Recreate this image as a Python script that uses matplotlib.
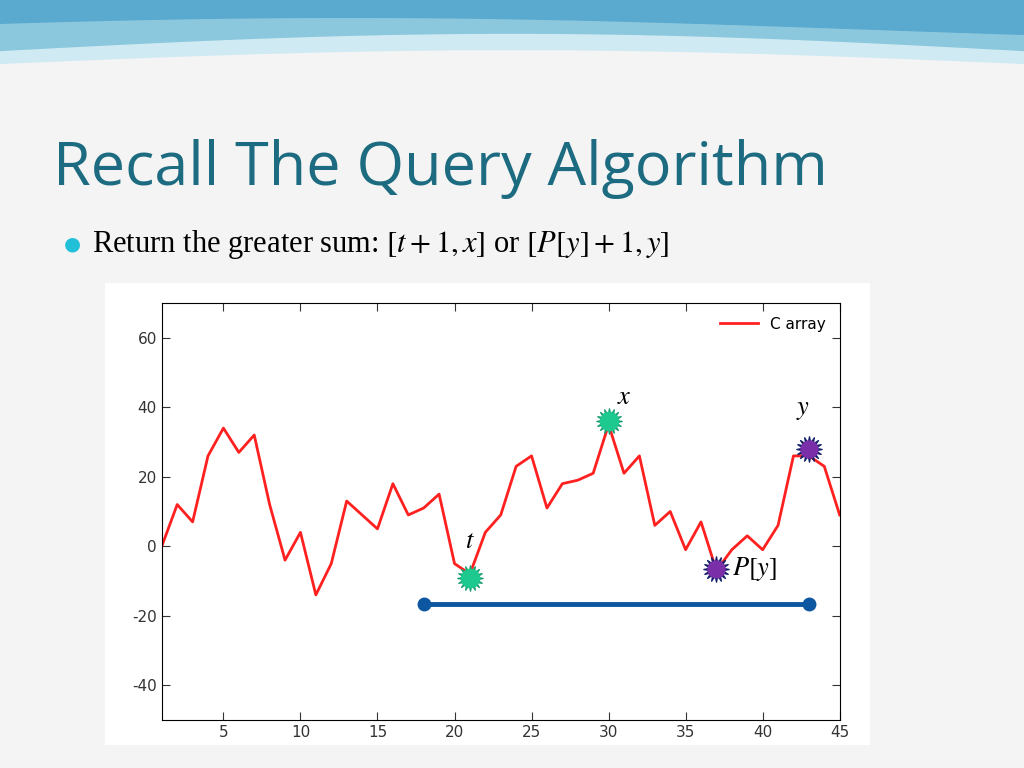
import matplotlib.pyplot as plt
import numpy as np

plt.rcParams['mathtext.fontset'] = 'stix'
plt.rcParams['axes.unicode_minus'] = False

xs = list(range(1, 46))
c_array = [0, 12, 7, 26, 34, 27, 32, 12, -4, 4, -14, -5, 13, 9, 5, 18, 9, 11, 15, -5,
           -8, 4, 9, 23, 26, 11, 18, 19, 21, 35, 21, 26, 6, 10, -1, 7, -7, -1, 3, -1,
           6, 26, 26, 23, 9]
green_pts_x = [21, 30]
green_pts_y = [-9, 36]
purple_pts_x = [37, 43]
purple_pts_y = [-6.5, 28]
seg_x = [18, 43]
seg_y = [-16.5, -16.5]
xticks = [5, 10, 15, 20, 25, 30, 35, 40, 45]
yticks = [-40, -20, 0, 20, 40, 60]

fig = plt.figure(figsize=(10.24, 7.68), dpi=100)
fig.patch.set_facecolor('#f4f4f4')

bg = fig.add_axes([0, 0.85, 1, 0.15])
bg.set_xlim(0, 1); bg.set_ylim(0, 1); bg.axis('off')
t = np.linspace(0, 1, 200)
bg.fill_between(t, 1, 0.55 + 0.15*np.sin(np.pi*t), color='#8cc8dd')
bg.fill_between(t, 1, 0.75 + 0.1*np.sin(np.pi*t+0.5), color='#5aa9cf')
bg.fill_between(t, 0.55 + 0.15*np.sin(np.pi*t), 0.45 + 0.12*np.sin(np.pi*t), color='#cfeaf3')

fig.text(0.052, 0.78, 'Recall The Query Algorithm', fontsize=44, color='#1d6b80',
         family='Open Sans', va='center')
fig.text(0.062, 0.682, '\u25cf', fontsize=14, color='#22c0d8', va='center')
fig.text(0.09, 0.682, r'Return the greater sum: $[t+1,x]$ or $[P[y]+1,y]$',
         fontsize=22, family='Liberation Serif', va='center')

box = fig.add_axes([0.103, 0.03, 0.747, 0.602])
box.set_facecolor('white'); box.set_xticks([]); box.set_yticks([])
for s in box.spines.values():
    s.set_visible(False)

ax = fig.add_axes([0.158, 0.0625, 0.662, 0.543])
ax.plot(xs, c_array, color='#ff2020', lw=2, label='C array')
ax.set_xlim(1, 45); ax.set_ylim(-50, 70)
ax.set_xticks(xticks); ax.set_yticks(yticks)
ax.tick_params(direction='in', length=6, top=True, right=True, labelsize=11, colors='#333333')
ax.legend(loc='upper right', frameon=False, fontsize=11, handlelength=2.5)
ax.plot(seg_x, seg_y, color='#0d56a0', lw=3.5, marker='o', ms=9)
ax.scatter(green_pts_x, green_pts_y, marker=(16, 1, 0), s=330, color='#1aa070',
           edgecolors='#1aa070', zorder=5)
ax.scatter(green_pts_x, green_pts_y, marker='o', s=170, color='#1ec98f', zorder=6)
ax.scatter(purple_pts_x, purple_pts_y, marker=(16, 1, 0), s=330, color='#13206a',
           edgecolors='#13206a', zorder=5)
ax.scatter(purple_pts_x, purple_pts_y, marker='o', s=150, color='#7a2fa8', zorder=6)
ax.text(21, -0.5, r'$t$', fontsize=19, ha='center')
ax.text(31, 41, r'$x$', fontsize=19, ha='center')
ax.text(42.6, 38, r'$y$', fontsize=19, ha='center')
ax.text(38, -6.5, r'$P[y]$', fontsize=19, va='center')
fig.savefig('out.png', dpi=100, facecolor=fig.get_facecolor())
